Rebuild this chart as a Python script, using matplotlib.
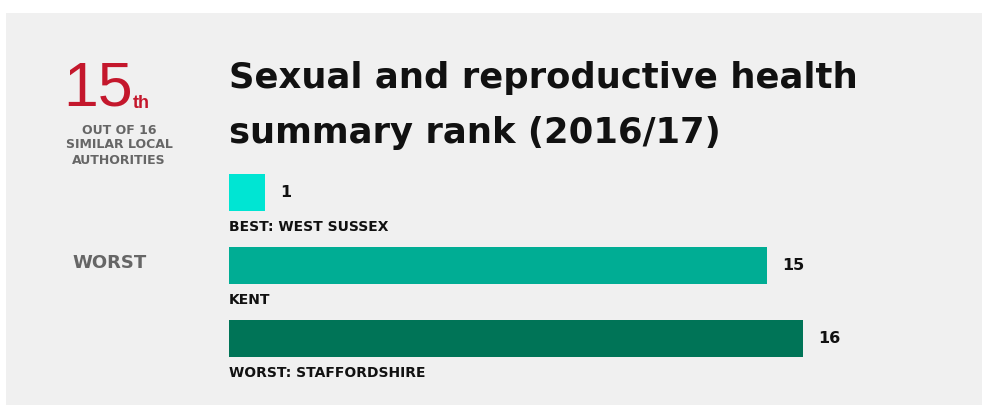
"""
Sexual and reproductive health summary rank - recreated with matplotlib
"""

import matplotlib.pyplot as plt
from matplotlib.patches import Rectangle

# data
areas = ["BEST: WEST SUSSEX", "KENT", "WORST: STAFFORDSHIRE"]
ranks = [1, 15, 16]
bar_colors = ["#00e5d3", "#00ad94", "#007457"]
n_authorities = 16
kent_rank = 15
title_lines = ["Sexual and reproductive health", "summary rank (2016/17)"]

W, H = 982, 407
fig = plt.figure(figsize=(W / 100, H / 100), dpi=100)
fig.patch.set_facecolor("white")

# grey panel
fig.patches.append(Rectangle((6 / W, 1 - 405 / H), 976 / W, 392 / H,
                             transform=fig.transFigure, facecolor="#f0f0f0",
                             edgecolor="none", zorder=-5))

# headline rank
fig.text(98 / W, 1 - 105 / H, str(kent_rank), color="#c4172c", fontsize=45,
         family="Liberation Sans", ha="center", va="baseline")
fig.text(133 / W, 1 - 108 / H, "th", color="#c4172c", fontsize=13,
         family="Liberation Sans", fontweight="bold", ha="left", va="baseline")
fig.text(119 / W, 1 - 145 / H,
         "OUT OF %d\nSIMILAR LOCAL\nAUTHORITIES" % n_authorities,
         color="#666666", fontsize=9, fontweight="bold", ha="center",
         va="center", linespacing=1.2)
fig.text(110 / W, 1 - 263 / H, "WORST", color="#666666", fontsize=13,
         fontweight="bold", ha="center", va="center")

for i, line in enumerate(title_lines):
    fig.text(229 / W, 1 - (88 + 55 * i) / H, line, fontsize=25.5,
             fontweight="bold", color="#111111", ha="left", va="baseline")

# bars
ax = fig.add_axes([229 / W, 1 - 375 / H, (803 - 229) / W, 219 / H])
ax.set_facecolor("none")
ypos = list(range(len(areas)))
ax.barh(ypos, ranks, height=0.52, color=bar_colors, edgecolor="none")
ax.set_xlim(0, n_authorities)
ax.set_ylim(len(areas) - 0.5, -0.5)
ax.axis("off")

for y, r, name in zip(ypos, ranks, areas):
    ax.annotate(str(r), (r, y), xytext=(11, 0), textcoords="offset points",
                fontsize=11.5, fontweight="bold", color="#111111",
                ha="left", va="center")
    ax.annotate(name, (0, y + 0.26), xytext=(0, -11), textcoords="offset points",
                fontsize=10, fontweight="bold", color="#111111",
                ha="left", va="center", annotation_clip=False)

fig.savefig("out.png", dpi=100, facecolor=fig.get_facecolor())
